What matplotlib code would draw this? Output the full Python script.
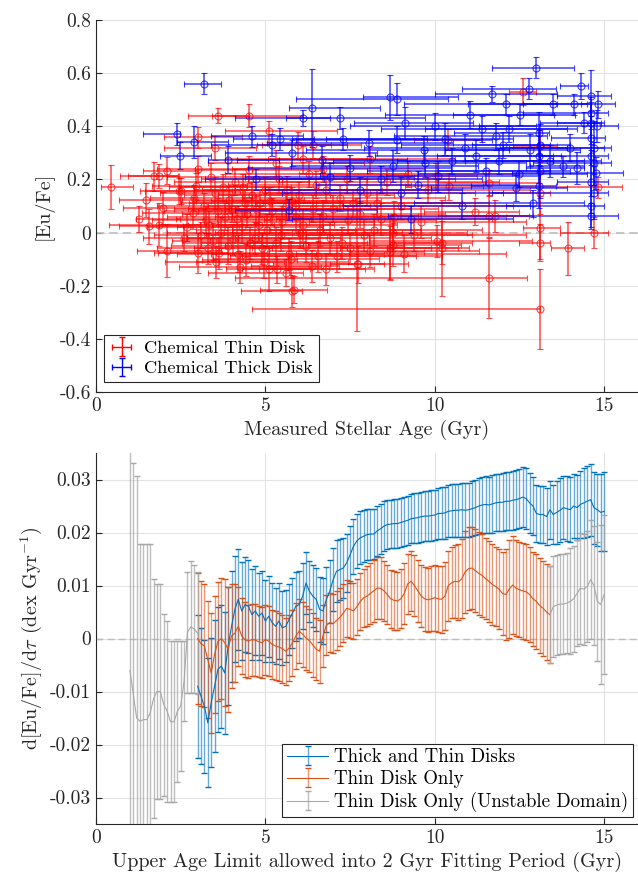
import numpy as np
import matplotlib
matplotlib.use("Agg")
import matplotlib.pyplot as plt

plt.rcParams['font.family'] = 'cmr10'
plt.rcParams['mathtext.fontset'] = 'cm'
plt.rcParams['axes.unicode_minus'] = False
plt.rcParams['axes.formatter.use_mathtext'] = True

# ---- top panel: chemical thin disk stars ----
thin_age = [0.44, 1.48, 1.72, 1.85, 2.10, 1.28, 1.57, 1.87, 1.99, 2.10,
            3.00, 2.51, 3.61, 4.51, 3.00, 3.51, 5.10, 4.43, 5.12, 5.79,
            13.10, 11.61, 7.71, 6.80, 5.61, 13.92, 14.70, 13.10, 13.10, 13.10,
            11.61, 11.77, 11.18, 11.61, 14.82, 10.20, 8.69, 8.69, 10.20, 10.40,
            10.05, 10.41, 13.10, 12.60, 5.95, 6.41,
            2.46, 2.95, 2.85, 3.64, 3.44, 4.04, 3.25, 3.94, 4.72, 4.53,
            4.82, 5.31, 6.12, 6.02, 5.83, 6.37, 7.72, 8.76, 8.76, 5.33,
            7.80, 8.09, 7.45, 6.71, 5.63, 10.06, 3.20, 3.50, 3.80, 4.10,
            4.30, 4.60, 4.90, 5.20, 5.50, 5.80, 6.20, 6.50, 6.90, 7.20,
            3.10, 3.40, 3.70, 4.00, 4.20, 4.40, 4.70, 5.00, 5.30, 5.60,
            5.90, 6.30, 6.60, 7.00, 7.50, 8.00, 8.40, 9.00, 9.40, 9.80,
            2.70, 2.90, 3.30, 3.60, 3.90, 4.15, 4.35, 4.55, 4.85, 5.05,
            5.40, 5.70, 6.00, 6.40, 6.80, 7.10, 7.40, 7.90, 8.30, 8.80,
            9.20, 9.60, 3.00, 3.55, 4.25, 4.95, 5.75, 6.55, 7.25, 8.10,
            8.60, 9.10, 2.60, 3.35, 3.75, 4.45, 5.15, 5.45, 6.10, 6.70,
            7.60, 8.20]
thin_eu = [0.171, 0.124, 0.212, 0.212, 0.233, 0.051, 0.024, 0.030, 0.093, -0.068,
           -0.077, 0.156, 0.440, 0.440, 0.359, 0.319, 0.381, -0.102, -0.139, -0.220,
           -0.289, -0.170, -0.120, -0.138, -0.151, -0.059, 0.000, -0.038, 0.019, 0.148,
           0.063, 0.063, 0.079, 0.186, 0.170, -0.059, -0.059, -0.075, -0.038, 0.350,
           0.211, 0.174, 0.327, 0.530, 0.328, 0.331,
           0.156, 0.174, 0.074, -0.077, -0.033, -0.026, 0.049, 0.124, 0.087, 0.237,
           0.030, 0.262, 0.275, 0.000, -0.215, -0.127, -0.120, -0.045, 0.000, -0.139,
           0.068, 0.275, 0.049, 0.061, 0.162, -0.033, 0.100, 0.150, 0.060, 0.190,
           0.020, 0.140, -0.060, 0.080, 0.040, 0.120, -0.050, 0.180, -0.020, 0.130,
           -0.010, 0.210, 0.000, 0.090, -0.080, 0.110, -0.020, 0.160, -0.040, 0.100,
           0.060, 0.220, 0.010, 0.090, -0.060, 0.150, 0.050, 0.100, -0.010, 0.160,
           0.020, 0.130, -0.060, 0.080, -0.050, 0.050, 0.170, -0.040, 0.110, 0.010,
           0.200, -0.080, 0.140, 0.090, 0.160, -0.090, 0.200, -0.010, 0.110, 0.060,
           0.220, 0.040, 0.240, -0.110, -0.130, -0.110, -0.100, -0.090, -0.040, -0.070,
           0.190, -0.080, -0.020, 0.030, 0.170, 0.070, 0.120, -0.010, 0.030, 0.240,
           0.110, 0.010]
thin_age_lo = [0.30, 0.80, 1.00, 0.90, 0.70, 0.10, 0.90, 1.50, 1.20, 0.90,
               1.30, 1.20, 0.90, 1.10, 1.00, 1.50, 1.30, 1.30, 0.80, 1.50,
               8.50, 7.50, 0.80, 2.00, 2.30, 0.50, 1.00, 0.60, 0.50, 1.50,
               1.50, 1.00, 1.50, 1.50, 2.40, 1.60, 1.50, 1.20, 1.40, 1.00,
               1.50, 1.30, 0.80, 0.40, 1.20, 1.50,
               1.0, 1.3, 1.5, 1.8, 1.2, 1.5, 1.6, 1.4, 2.0, 1.6,
               2.1, 2.0, 2.3, 2.5, 1.0, 1.8, 2.5, 2.5, 2.8, 1.5,
               3.0, 3.0, 2.5, 2.7, 2.5, 2.0, 1.4, 1.6, 1.7, 1.8,
               1.9, 2.0, 2.0, 2.2, 2.3, 2.4, 2.4, 2.6, 2.7, 2.9,
               1.4, 1.3, 1.6, 1.7, 1.8, 1.9, 2.0, 2.1, 2.2, 2.3,
               2.4, 2.5, 2.6, 2.8, 2.9, 3.0, 3.1, 3.2, 3.2, 3.3,
               1.2, 1.3, 1.5, 1.6, 1.7, 1.8, 1.9, 2.0, 2.1, 2.1,
               2.3, 2.3, 2.4, 2.6, 2.7, 2.8, 2.9, 3.0, 3.1, 3.2,
               3.2, 3.3, 1.2, 1.5, 1.8, 2.0, 2.3, 2.6, 2.8, 3.0,
               3.1, 3.2, 1.2, 1.5, 1.6, 1.9, 2.2, 2.2, 2.5, 2.7,
               2.9, 3.1]
thin_age_hi = [0.65, 1.00, 0.70, 0.60, 0.90, 1.20, 1.00, 1.20, 2.00, 1.60,
               0.90, 1.50, 0.90, 1.60, 1.30, 1.20, 2.00, 1.50, 1.20, 0.30,
               0.00, 1.10, 0.80, 1.40, 0.50, 0.50, 0.40, 0.30, 0.60, 0.30,
               1.30, 1.00, 1.30, 1.50, 0.70, 0.80, 1.20, 1.00, 0.90, 1.00,
               1.20, 1.00, 0.50, 0.40, 1.00, 1.40,
               1.8, 1.5, 1.7, 1.4, 2.0, 2.5, 1.9, 2.2, 2.4, 2.2,
               2.2, 2.6, 2.0, 3.0, 1.0, 0.8, 1.5, 2.0, 2.2, 2.6,
               2.5, 2.5, 2.6, 2.8, 2.8, 2.8, 1.8, 2.0, 2.2, 2.2,
               2.4, 2.3, 2.5, 2.6, 2.7, 2.6, 2.9, 2.8, 3.0, 3.1,
               1.8, 1.9, 2.1, 2.0, 2.3, 2.1, 2.5, 2.4, 2.7, 2.5,
               2.8, 2.9, 3.0, 3.1, 3.2, 3.2, 3.3, 3.3, 3.3, 3.0,
               1.6, 1.7, 1.9, 2.0, 2.2, 2.2, 2.2, 2.4, 2.4, 2.6,
               2.6, 2.8, 2.8, 2.9, 3.0, 3.1, 3.2, 3.2, 3.3, 3.3,
               3.3, 3.1, 1.6, 2.0, 2.4, 2.5, 2.6, 2.9, 3.0, 3.2,
               3.3, 3.0, 1.5, 1.9, 2.0, 2.2, 2.5, 2.6, 2.8, 3.0,
               3.2, 3.2]
thin_eu_err = [0.084, 0.064, 0.055, 0.045, 0.050, 0.050, 0.066, 0.080, 0.060, 0.100,
               0.075, 0.050, 0.028, 0.043, 0.040, 0.045, 0.040, 0.060, 0.080, 0.060,
               0.150, 0.150, 0.250, 0.060, 0.050, 0.100, 0.060, 0.070, 0.120, 0.080,
               0.080, 0.060, 0.050, 0.050, 0.040, 0.180, 0.120, 0.100, 0.080, 0.040,
               0.050, 0.050, 0.060, 0.050, 0.050, 0.050,
               0.05, 0.05, 0.06, 0.06, 0.07, 0.06, 0.05, 0.05, 0.05, 0.05,
               0.06, 0.05, 0.05, 0.06, 0.05, 0.06, 0.07, 0.08, 0.07, 0.05,
               0.05, 0.05, 0.05, 0.06, 0.05, 0.06, 0.05, 0.06, 0.05, 0.05,
               0.06, 0.05, 0.06, 0.05, 0.06, 0.05, 0.06, 0.05, 0.06, 0.05,
               0.05, 0.05, 0.06, 0.05, 0.07, 0.05, 0.06, 0.05, 0.06, 0.05,
               0.06, 0.05, 0.06, 0.05, 0.06, 0.05, 0.06, 0.05, 0.06, 0.05,
               0.05, 0.05, 0.06, 0.05, 0.07, 0.05, 0.05, 0.06, 0.05, 0.06,
               0.05, 0.06, 0.05, 0.05, 0.05, 0.06, 0.05, 0.06, 0.05, 0.06,
               0.05, 0.06, 0.05, 0.06, 0.06, 0.06, 0.07, 0.06, 0.06, 0.06,
               0.05, 0.07, 0.05, 0.05, 0.05, 0.05, 0.05, 0.06, 0.06, 0.05,
               0.05, 0.06]

# ---- top panel: chemical thick disk stars ----
thick_age = [3.20, 13.00, 14.31, 6.39, 8.69, 8.89, 12.79, 11.70, 12.10, 13.49,
             14.10, 14.60, 14.82, 6.10, 7.20, 2.39, 2.89, 2.49, 3.90, 4.60,
             5.44, 7.28, 9.13, 11.03, 12.53, 14.41, 14.62, 14.62, 13.08, 11.80,
             10.30, 13.80, 14.20, 12.40, 10.80, 14.62, 5.70, 4.72, 8.77, 13.08,
             13.08, 14.62, 14.62, 14.77, 9.69, 11.23, 8.05, 6.67, 7.49, 10.10,
             9.50, 10.50, 11.50, 12.00, 12.80, 13.10, 13.10, 14.70, 14.70, 14.70,
             14.80, 9.00, 8.40, 7.80, 10.90, 11.90, 12.20, 10.00, 11.40, 9.70,
             8.90, 12.50, 13.40, 14.00, 14.60, 14.60, 5.80, 6.90, 5.20, 9.30,
             12.90]
thick_eu = [0.561, 0.620, 0.551, 0.469, 0.509, 0.503, 0.541, 0.522, 0.482, 0.482,
            0.482, 0.513, 0.482, 0.431, 0.431, 0.371, 0.340, 0.289, 0.274, 0.362,
            0.352, 0.352, 0.413, 0.444, 0.444, 0.413, 0.413, 0.356, 0.375, 0.362,
            0.352, 0.249, 0.243, 0.167, 0.100, 0.063, 0.086, 0.200, 0.249, 0.287,
            0.174, 0.192, 0.287, 0.224, 0.312, 0.287, 0.337, 0.274, 0.243, 0.211,
            0.180, 0.270, 0.230, 0.330, 0.310, 0.230, 0.330, 0.320, 0.150, 0.260,
            0.400, 0.150, 0.200, 0.160, 0.320, 0.270, 0.390, 0.400, 0.390, 0.260,
            0.350, 0.220, 0.270, 0.320, 0.450, 0.100, 0.300, 0.210, 0.330, 0.050,
            0.110]
thick_age_lo = [0.6, 1.3, 0.6, 0.7, 0.8, 3.0, 2.0, 1.7, 3.0, 2.5,
                1.5, 1.0, 0.5, 2.0, 1.6, 1.0, 0.5, 0.6, 0.6, 1.2,
                1.4, 1.5, 1.5, 2.5, 2.0, 0.8, 1.5, 1.2, 2.5, 3.0,
                3.5, 1.0, 1.5, 2.5, 3.5, 6.0, 1.6, 1.5, 3.0, 3.0,
                2.0, 1.0, 1.5, 2.5, 3.5, 3.0, 3.0, 2.5, 3.0, 3.5,
                3.0, 3.5, 3.5, 3.0, 2.5, 3.0, 2.0, 2.5, 3.0, 1.8,
                3.5, 3.5, 3.0, 2.8, 3.0, 3.0, 2.5, 2.5, 3.0, 3.0,
                3.0, 3.0, 2.5, 2.0, 2.0, 2.5, 2.0, 2.5, 1.8, 3.5,
                3.5]
thick_age_hi = [0.5, 1.1, 0.2, 2.0, 2.0, 1.5, 0.8, 1.9, 1.5, 1.0,
                0.5, 0.6, 0.5, 0.8, 2.5, 0.1, 1.0, 0.9, 1.5, 1.5,
                1.0, 2.5, 2.0, 2.5, 1.6, 0.6, 0.3, 0.4, 0.3, 1.5,
                2.0, 0.6, 0.2, 1.5, 2.0, 0.8, 2.6, 2.0, 2.5, 0.4,
                0.5, 0.5, 0.5, 0.8, 2.5, 2.5, 2.5, 2.5, 3.0, 3.0,
                3.0, 3.0, 2.5, 2.0, 1.5, 0.3, 0.3, 0.5, 0.4, 0.5,
                0.6, 3.0, 3.0, 3.0, 3.0, 2.5, 2.0, 3.0, 2.5, 3.0,
                2.8, 2.0, 1.5, 1.0, 0.5, 0.4, 2.5, 2.5, 2.2, 3.0,
                1.5]
thick_eu_err = [0.041, 0.040, 0.050, 0.148, 0.085, 0.060, 0.040, 0.030, 0.040, 0.040,
                0.040, 0.100, 0.050, 0.030, 0.040, 0.040, 0.060, 0.050, 0.050, 0.040,
                0.040, 0.040, 0.060, 0.050, 0.040, 0.040, 0.080, 0.100, 0.080, 0.050,
                0.060, 0.040, 0.060, 0.050, 0.050, 0.050, 0.040, 0.040, 0.060, 0.100,
                0.080, 0.120, 0.150, 0.060, 0.050, 0.060, 0.050, 0.050, 0.050, 0.060,
                0.050, 0.050, 0.050, 0.050, 0.060, 0.100, 0.080, 0.100, 0.100, 0.080,
                0.060, 0.060, 0.050, 0.050, 0.050, 0.050, 0.050, 0.050, 0.050, 0.050,
                0.050, 0.050, 0.060, 0.050, 0.060, 0.080, 0.050, 0.050, 0.040, 0.050,
                0.050]

# ---- bottom panel: slopes vs upper age limit ----
both_x = np.round(np.arange(3.0, 15.01, 0.1), 1)
both_slope = [-0.0090, -0.0109, -0.0128, -0.0159, -0.0121, -0.0090, -0.0058, -0.0052, -0.0065, -0.0014,
              0.0023, 0.0055, 0.0074, 0.0052, 0.0064, 0.0061, 0.0045, 0.0052, 0.0042, 0.0048,
              0.0033, 0.0042, 0.0030, 0.0023, 0.0033, 0.0020, 0.0023, 0.0036, 0.0048, 0.0061,
              0.0064, 0.0080, 0.0105, 0.0089, 0.0080, 0.0074, 0.0055, 0.0052, 0.0074, 0.0089,
              0.0111, 0.0127, 0.0130, 0.0133, 0.0143, 0.0158, 0.0174, 0.0184, 0.0190, 0.0193,
              0.0196, 0.0197, 0.0197, 0.0203, 0.0207, 0.0212, 0.0215, 0.0216, 0.0217, 0.0217,
              0.0219, 0.0221, 0.0223, 0.0226, 0.0227, 0.0228, 0.0230, 0.0231, 0.0231, 0.0232,
              0.0233, 0.0236, 0.0236, 0.0237, 0.0240, 0.0241, 0.0242, 0.0242, 0.0243, 0.0242,
              0.0243, 0.0245, 0.0247, 0.0250, 0.0252, 0.0253, 0.0252, 0.0254, 0.0256, 0.0257,
              0.0257, 0.0259, 0.0259, 0.0261, 0.0262, 0.0264, 0.0267, 0.0264, 0.0256, 0.0250,
              0.0236, 0.0234, 0.0234, 0.0230, 0.0243, 0.0234, 0.0238, 0.0242, 0.0247, 0.0245,
              0.0243, 0.0250, 0.0247, 0.0253, 0.0256, 0.0259, 0.0262, 0.0247, 0.0243, 0.0238,
              0.0240]
both_err = [0.0135, 0.0128, 0.0125, 0.0122, 0.0122, 0.0125, 0.0118, 0.0116, 0.0115, 0.0112,
            0.0105, 0.0100, 0.0095, 0.0092, 0.0090, 0.0088, 0.0086, 0.0084, 0.0082, 0.0080,
            0.0078, 0.0076, 0.0074, 0.0072, 0.0071, 0.0070, 0.0068, 0.0067, 0.0066, 0.0065,
            0.0063, 0.0062, 0.0058, 0.0058, 0.0059, 0.0060, 0.0061, 0.0062, 0.0061, 0.0060,
            0.0059, 0.0058, 0.0057, 0.0056, 0.0055, 0.0054, 0.0052, 0.0051, 0.0050, 0.0049,
            0.0048, 0.0048, 0.0047, 0.0047, 0.0047, 0.0047, 0.0046, 0.0046, 0.0046, 0.0046,
            0.0046, 0.0046, 0.0046, 0.0046, 0.0047, 0.0047, 0.0047, 0.0047, 0.0047, 0.0048,
            0.0048, 0.0048, 0.0049, 0.0049, 0.0049, 0.0050, 0.0050, 0.0050, 0.0051, 0.0051,
            0.0051, 0.0052, 0.0052, 0.0052, 0.0053, 0.0053, 0.0053, 0.0054, 0.0054, 0.0054,
            0.0055, 0.0055, 0.0055, 0.0056, 0.0056, 0.0056, 0.0057, 0.0057, 0.0056, 0.0055,
            0.0054, 0.0054, 0.0054, 0.0054, 0.0055, 0.0056, 0.0060, 0.0060, 0.0060, 0.0061,
            0.0061, 0.0061, 0.0062, 0.0063, 0.0066, 0.0067, 0.0068, 0.0068, 0.0068, 0.0072,
            0.0075]

thin_x = np.round(np.arange(3.0, 13.41, 0.1), 1)
thin_slope = [0.0000, -0.0010, -0.0014, -0.0040, -0.0065, -0.0030, -0.0005, 0.0000, -0.0008, -0.0020,
              0.0005, 0.0010, 0.0023, 0.0005, -0.0002, -0.0005, -0.0002, -0.0003, -0.0006, -0.0008,
              -0.0002, -0.0005, -0.0011, -0.0014, -0.0016, -0.0019, -0.0024, -0.0018, -0.0008, 0.0005,
              0.0014, 0.0008, 0.0001, -0.0004, -0.0012, -0.0020, -0.0024, 0.0005, 0.0025, 0.0030,
              0.0028, 0.0034, 0.0040, 0.0048, 0.0057, 0.0055, 0.0052, 0.0060, 0.0070, 0.0077,
              0.0080, 0.0085, 0.0090, 0.0095, 0.0095, 0.0090, 0.0083, 0.0075, 0.0072, 0.0071,
              0.0075, 0.0085, 0.0103, 0.0108, 0.0100, 0.0090, 0.0080, 0.0075, 0.0073, 0.0075,
              0.0077, 0.0075, 0.0074, 0.0080, 0.0100, 0.0105, 0.0108, 0.0107, 0.0113, 0.0126,
              0.0132, 0.0133, 0.0128, 0.0123, 0.0119, 0.0113, 0.0108, 0.0102, 0.0098, 0.0093,
              0.0085, 0.0083, 0.0093, 0.0101, 0.0095, 0.0092, 0.0090, 0.0088, 0.0083, 0.0075,
              0.0070, 0.0062, 0.0057, 0.0050, 0.0045]
thin_err = [0.0123, 0.0118, 0.0116, 0.0110, 0.0113, 0.0110, 0.0112, 0.0114, 0.0120, 0.0118,
            0.0098, 0.0092, 0.0075, 0.0072, 0.0070, 0.0069, 0.0068, 0.0068, 0.0067, 0.0067,
            0.0066, 0.0066, 0.0065, 0.0065, 0.0064, 0.0064, 0.0063, 0.0063, 0.0062, 0.0062,
            0.0061, 0.0061, 0.0060, 0.0060, 0.0060, 0.0059, 0.0059, 0.0058, 0.0057, 0.0056,
            0.0056, 0.0055, 0.0055, 0.0055, 0.0054, 0.0054, 0.0053, 0.0053, 0.0054, 0.0055,
            0.0056, 0.0057, 0.0058, 0.0058, 0.0058, 0.0057, 0.0056, 0.0055, 0.0055, 0.0055,
            0.0056, 0.0057, 0.0057, 0.0057, 0.0058, 0.0058, 0.0059, 0.0060, 0.0061, 0.0061,
            0.0062, 0.0062, 0.0063, 0.0064, 0.0066, 0.0067, 0.0069, 0.0072, 0.0075, 0.0077,
            0.0078, 0.0078, 0.0078, 0.0078, 0.0078, 0.0077, 0.0076, 0.0076, 0.0075, 0.0075,
            0.0078, 0.0085, 0.0092, 0.0092, 0.0091, 0.0090, 0.0090, 0.0090, 0.0090, 0.0089,
            0.0089, 0.0090, 0.0090, 0.0091, 0.0091]

unst_x_a = np.round(np.arange(1.0, 3.01, 0.1), 1)
unst_slope_a = [-0.0060, -0.0105, -0.0150, -0.0156, -0.0153, -0.0153, -0.0140, -0.0113, -0.0100, -0.0100,
                -0.0125, -0.0137, -0.0157, -0.0157, -0.0138, -0.0127, -0.0080, 0.0012, 0.0022, 0.0018,
                0.0010]
unst_err_a = [0.0500, 0.0436, 0.0456, 0.0334, 0.0331, 0.0331, 0.0318, 0.0226, 0.0202, 0.0202,
              0.0172, 0.0171, 0.0152, 0.0152, 0.0133, 0.0123, 0.0075, 0.0114, 0.0124, 0.0121,
              0.0115]
unst_x_b = np.round(np.arange(13.4, 15.01, 0.1), 1)
unst_slope_b = [0.0045, 0.0060, 0.0063, 0.0065, 0.0065, 0.0067, 0.0070, 0.0075, 0.0085, 0.0095,
                0.0093, 0.0098, 0.0111, 0.0100, 0.0070, 0.0064, 0.0083]
unst_err_b = [0.0091, 0.0095, 0.0095, 0.0095, 0.0095, 0.0095, 0.0100, 0.0100, 0.0100, 0.0105,
              0.0105, 0.0105, 0.0112, 0.0112, 0.0112, 0.0150, 0.0150]

c_axis = '#262626'
c_blue = '#0072BD'
c_orange = '#D95319'
c_gray = '#a8a8a8'

fig = plt.figure(figsize=(6.38, 8.85), dpi=100)
ax1 = fig.add_axes([0.1505, 0.5571, 0.8495, 0.4203])
ax2 = fig.add_axes([0.1505, 0.0689, 0.8495, 0.4192])

for ax in (ax1, ax2):
    ax.spines['top'].set_visible(False)
    ax.spines['right'].set_visible(False)
    ax.spines['left'].set_color(c_axis)
    ax.spines['bottom'].set_color(c_axis)
    ax.tick_params(direction='in', length=4, width=0.8, colors=c_axis, labelsize=14)
    ax.grid(True, color='#e3e3e3', linewidth=0.8)
    ax.set_axisbelow(True)
    ax.set_xlim(0, 16)
    ax.set_xticks([0, 5, 10, 15])
    ax.set_xticklabels(['0', '5', '10', '15'])

# top panel
ax1.axhline(0, color='#bdbdbd', ls=(0, (5, 3)), lw=1.2, zorder=1.5)
ax1.errorbar(thin_age, thin_eu, xerr=[thin_age_lo, thin_age_hi], yerr=thin_eu_err,
             fmt='o', color='red', mfc='none', ms=5, mew=0.8, elinewidth=1.1,
             capsize=2.5, capthick=1.1, alpha=0.7, zorder=3)
ax1.errorbar(thick_age, thick_eu, xerr=[thick_age_lo, thick_age_hi], yerr=thick_eu_err,
             fmt='o', color='blue', mfc='none', ms=5, mew=0.8, elinewidth=1.1,
             capsize=2.5, capthick=1.1, alpha=0.75, zorder=4)
h_thin = ax1.errorbar([np.nan], [np.nan], xerr=[1], yerr=[1], fmt='none', color='red',
                      elinewidth=1, capsize=2.5, capthick=1)
h_thick = ax1.errorbar([np.nan], [np.nan], xerr=[1], yerr=[1], fmt='none', color='blue',
                       elinewidth=1, capsize=2.5, capthick=1)
ax1.set_ylim(-0.6, 0.8)
ax1.set_yticks([-0.6, -0.4, -0.2, 0, 0.2, 0.4, 0.6, 0.8])
ax1.set_yticklabels(['-0.6', '-0.4', '-0.2', '0', '0.2', '0.4', '0.6', '0.8'])
ax1.set_xlabel('Measured Stellar Age (Gyr)', fontsize=14.5, color=c_axis)
ax1.set_ylabel('[Eu/Fe]', fontsize=14.5, color=c_axis)
leg1 = ax1.legend([h_thin, h_thick], ['Chemical Thin Disk', 'Chemical Thick Disk'],
                  loc='lower left', bbox_to_anchor=(0.015, 0.027), borderaxespad=0,
                  fontsize=13.2, fancybox=False, framealpha=1, edgecolor=c_axis,
                  handlelength=1.3, handletextpad=0.6, borderpad=0.3, labelspacing=0.25)
leg1.get_frame().set_linewidth(0.8)

# bottom panel
ax2.axhline(0, color='#bdbdbd', ls=(0, (5, 3)), lw=1.0, zorder=1.5)


def slope_bars(x, y, e, color, cap_color, alpha):
    eb = ax2.errorbar(x, y, yerr=e, color=color, lw=0.8, elinewidth=1.0,
                      capsize=2.2, capthick=1.0, zorder=3)
    eb[2][0].set_alpha(alpha)
    for c in eb[1]:
        c.set_color(cap_color)
    return eb


eb_both = slope_bars(both_x, both_slope, both_err, c_blue, c_blue, 0.6)
eb_thin = slope_bars(thin_x, thin_slope, thin_err, c_orange, c_orange, 0.6)
eb_un_a = slope_bars(unst_x_a, unst_slope_a, unst_err_a, c_gray, '#999999', 0.75)
eb_un_b = slope_bars(unst_x_b, unst_slope_b, unst_err_b, c_gray, '#999999', 0.75)

ax2.set_ylim(-0.035, 0.035)
ax2.set_yticks([-0.03, -0.02, -0.01, 0, 0.01, 0.02, 0.03])
ax2.set_yticklabels(['-0.03', '-0.02', '-0.01', '0', '0.01', '0.02', '0.03'])
ax2.set_xlabel('Upper Age Limit allowed into 2 Gyr Fitting Period (Gyr)', fontsize=14.5, color=c_axis)
ax2.set_ylabel(r'd[Eu/Fe]/d$\tau$ (dex Gyr$^{-1}$)', fontsize=14.5, color=c_axis)
leg2 = ax2.legend([eb_both, eb_thin, eb_un_a],
                  ['Thick and Thin Disks', 'Thin Disk Only', 'Thin Disk Only (Unstable Domain)'],
                  loc='lower right', bbox_to_anchor=(0.991, 0.019), borderaxespad=0,
                  fontsize=13.6, fancybox=False, framealpha=1, edgecolor=c_axis,
                  handlelength=2.2, handletextpad=0.3, borderpad=0.25, labelspacing=0.2)
leg2.get_frame().set_linewidth(0.8)

fig.savefig('out.png', dpi=100)
